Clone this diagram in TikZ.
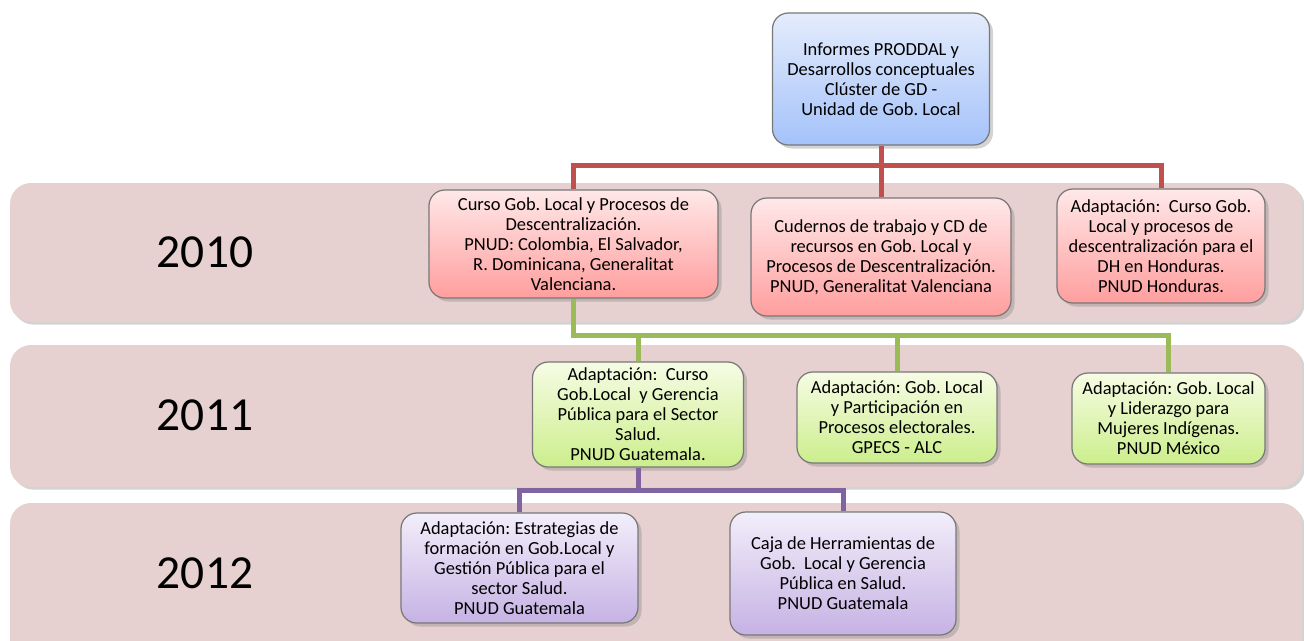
\documentclass[tikz,border=0pt]{standalone}
\usepackage{fontspec}
\setmainfont{Carlito}
\frenchspacing
\usetikzlibrary{shadows}
\definecolor{bandfill}{RGB}{231,208,208}
\definecolor{redln}{RGB}{192,80,77}
\definecolor{greenln}{RGB}{155,187,89}
\definecolor{purpleln}{RGB}{128,100,162}
\definecolor{boxedge}{RGB}{120,120,120}
\definecolor{bluetop}{RGB}{228,236,252}
\definecolor{bluebot}{RGB}{164,194,250}
\definecolor{redtop}{RGB}{255,232,232}
\definecolor{redbot}{RGB}{255,158,158}
\definecolor{greentop}{RGB}{246,252,228}
\definecolor{greenbot}{RGB}{204,238,140}
\definecolor{purpletop}{RGB}{242,238,250}
\definecolor{purplebot}{RGB}{198,178,228}
\tikzset{
  band/.style={fill=bandfill, draw=none, rounded corners=12,
    drop shadow={shadow xshift=1.5pt, shadow yshift=-1.5pt, opacity=0.35}},
  year/.style={font=\fontsize{27}{30}\selectfont, inner sep=0pt},
  card/.style={draw=boxedge, line width=0.7pt, rounded corners=9, align=center,
    font=\fontsize{10.5}{11.4}\selectfont, inner sep=2pt,
    drop shadow={shadow xshift=2pt, shadow yshift=-2pt, opacity=0.35}},
  bluecard/.style={card, top color=bluetop, bottom color=bluebot},
  redcard/.style={card, top color=redtop, bottom color=redbot},
  greencard/.style={card, top color=greentop, bottom color=greenbot},
  purplecard/.style={card, top color=purpletop, bottom color=purplebot},
  redline/.style={draw=redln, line width=5*0.02cm},
  greenline/.style={draw=greenln, line width=5*0.02cm},
  purpleline/.style={draw=purpleln, line width=5*0.02cm},
}
\begin{document}
\begin{tikzpicture}[x=0.02cm, y=-0.02cm]
\useasboundingbox (0,0) rectangle (1304,640);
\clip (0,0) rectangle (1304,640);
% bands
\path[band] (10,183) rectangle (1302,322);
\path[band] (10,345) rectangle (1302,487);
\path[band] (10,503) rectangle (1302,680);
\node[year] (y10) at (205,252) {2010};
\node[year] (y11) at (205,415) {2011};
\node[year] (y12) at (205,573) {2012};
% boxes
\node[bluecard, minimum width=217*0.02cm, minimum height=132*0.02cm] (top) at (881,79)
  {Informes PRODDAL y\\Desarrollos conceptuales\\Clúster de GD -\\Unidad de Gob. Local};
\node[redcard, minimum width=289*0.02cm, minimum height=108*0.02cm] (A) at (573.5,244)
  {Curso Gob. Local y Procesos de\\Descentralización.\\PNUD: Colombia, El Salvador,\\R. Dominicana, Generalitat\\Valenciana.};
\node[redcard, minimum width=260*0.02cm, minimum height=118*0.02cm] (B) at (881,257)
  {Cudernos de trabajo y CD de\\recursos en Gob. Local y\\Procesos de Descentralización.\\PNUD, Generalitat Valenciana};
\node[redcard, minimum width=208*0.02cm, minimum height=114*0.02cm] (C) at (1161,246)
  {Adaptación:\ \ Curso Gob.\\Local y procesos de\\descentralización para el\\DH en Honduras.\\PNUD Honduras.};
\node[greencard, minimum width=211*0.02cm, minimum height=105*0.02cm] (D) at (638,414.5)
  {Adaptación:\ \ Curso\\Gob.Local\ \ y Gerencia\\Pública para el Sector\\Salud.\\PNUD Guatemala.};
\node[greencard, minimum width=200*0.02cm, minimum height=91*0.02cm] (E) at (897,417.5)
  {Adaptación: Gob. Local\\y Participación en\\Procesos electorales.\\GPECS - ALC};
\node[greencard, minimum width=193*0.02cm, minimum height=91*0.02cm] (F) at (1168.5,418.5)
  {Adaptación: Gob. Local\\y Liderazgo para\\Mujeres Indígenas.\\PNUD México};
\node[purplecard, minimum width=237*0.02cm, minimum height=110*0.02cm] (G) at (519.5,568)
  {Adaptación: Estrategias de\\formación en Gob.Local y\\Gestión Pública para el\\sector Salud.\\PNUD Guatemala};
\node[purplecard, minimum width=226*0.02cm, minimum height=123*0.02cm] (H) at (843,573.5)
  {Caja de Herramientas de\\Gob.\ \ Local y Gerencia\\Pública en Salud.\\PNUD Guatemala};
% connectors
\coordinate (rj) at (881,165);
\coordinate (gj) at (573,335);
\coordinate (pj) at (638,490);
\draw[redline] (top.south) -- (rj);
\draw[redline] (A.north) |- (rj) -| (C.north);
\draw[redline] (rj) -- (B.north);
\draw[greenline] (A.south) |- (F.north |- gj) -- (F.north);
\draw[greenline] (D.north |- gj) -- (D.north);
\draw[greenline] (E.north |- gj) -- (E.north);
\draw[purpleline] (D.south) -- (pj);
\draw[purpleline] (G.north) |- (pj) -| (H.north);
\end{tikzpicture}
\end{document}
